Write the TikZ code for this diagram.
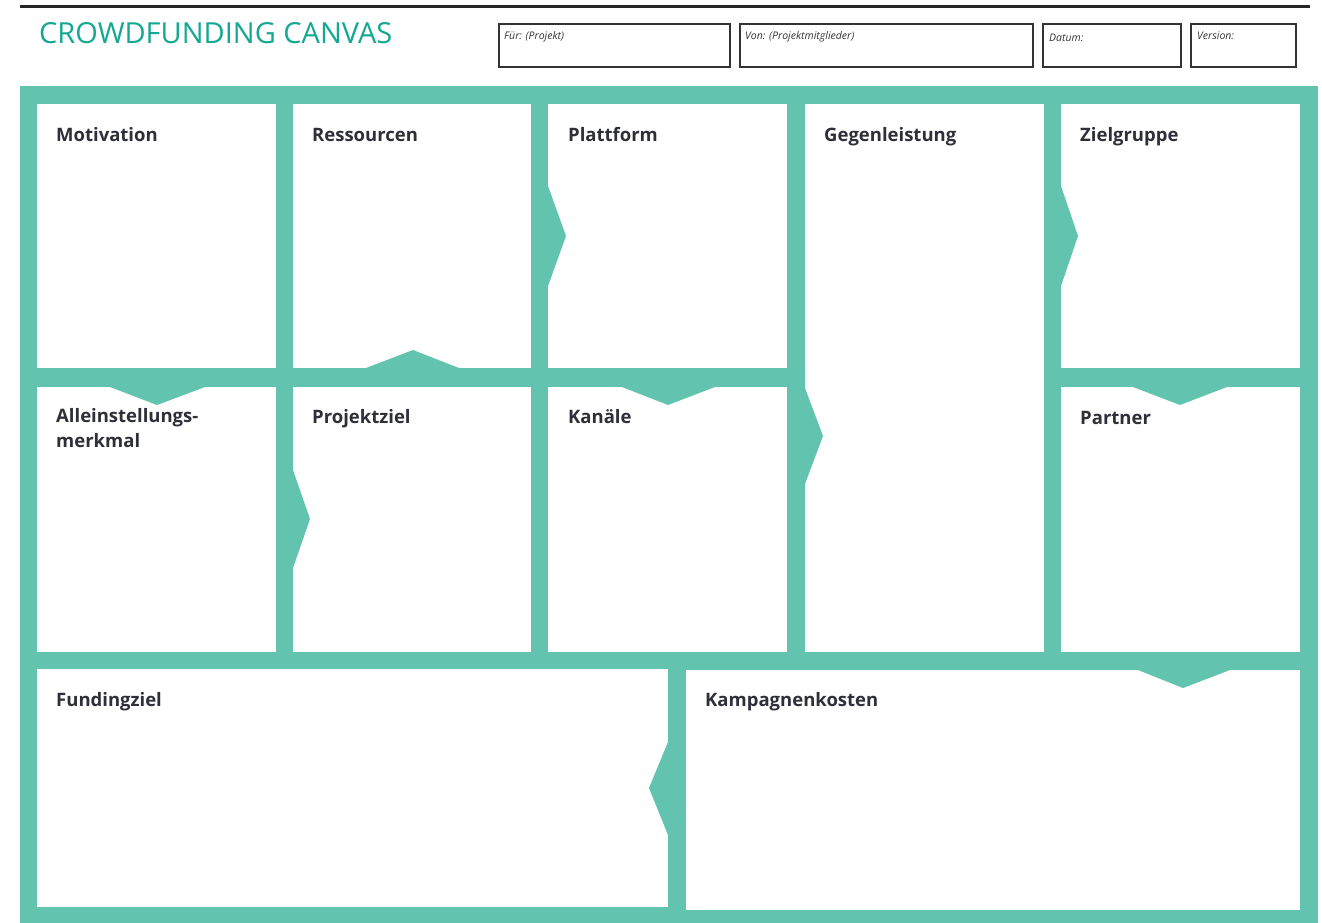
\documentclass[tikz,border=0pt]{standalone}
\usepackage{fontspec}
\setmainfont{Open Sans}
\definecolor{cgreen}{HTML}{62C4AE}
\definecolor{cteal}{HTML}{14A892}
\definecolor{ctext}{HTML}{2E2F38}
\begin{document}
\begin{tikzpicture}[x=1pt,y=-1pt,
  panel/.style={fill=white},
  notch/.style={fill=cgreen},
  lbl/.style={anchor=base west,inner sep=0pt,text=ctext,font=\fontsize{18.5}{24.5}\selectfont\bfseries},
  hbox/.style={draw=black!80,line width=1.3pt},
  htxt/.style={anchor=base west,inner sep=0pt,text=black!80,font=\fontsize{10.5}{11}\selectfont\itshape}]
\useasboundingbox (0,0) rectangle (1322,923);
% top rule
\draw[line width=3pt,black!85] (20,6.5) -- (1310,6.5);
% title
\node[anchor=base west,inner sep=0pt,text=cteal,font=\fontsize{29}{32}\selectfont] (title) at (39,44) {CROWDFUNDING CANVAS};
% header boxes
\draw[hbox] (499,24) rectangle (730,67);
\draw[hbox] (740,24) rectangle (1033,67);
\draw[hbox] (1043,24) rectangle (1181,67);
\draw[hbox] (1191,24) rectangle (1296,67);
\node[htxt] (fuer) at (504,40) {Für: (Projekt)};
\node[htxt] (von) at (745,40) {Von: (Projektmitglieder)};
\node[htxt] (datum) at (1049,42) {Datum:};
\node[htxt] (version) at (1197,40) {Version:};
% green field
\fill[cgreen] (20,86) rectangle (1318,923);
% panels
\fill[panel] (37,104) rectangle (276,368);
\fill[panel] (293,104) rectangle (531,368);
\fill[panel] (548,104) rectangle (787,368);
\fill[panel] (805,104) rectangle (1044,652);
\fill[panel] (1061,104) rectangle (1300,368);
\fill[panel] (37,387) rectangle (276,652);
\fill[panel] (293,387) rectangle (531,652);
\fill[panel] (548,387) rectangle (787,652);
\fill[panel] (1061,387) rectangle (1300,652);
\fill[panel] (37,669) rectangle (668,907);
\fill[panel] (686,670) rectangle (1300,910);
% notches
\fill[notch] (110,387) -- (205,387) -- (157,405) -- cycle;
\fill[notch] (366,368) -- (459,368) -- (413,350) -- cycle;
\fill[notch] (548,186) -- (548,286) -- (566,236) -- cycle;
\fill[notch] (622,387) -- (715,387) -- (668,405) -- cycle;
\fill[notch] (805,388) -- (805,484) -- (823,436) -- cycle;
\fill[notch] (1061,186) -- (1061,286) -- (1078,236) -- cycle;
\fill[notch] (1133,387) -- (1227,387) -- (1180,405) -- cycle;
\fill[notch] (293,470) -- (293,568) -- (310,519) -- cycle;
\fill[notch] (1138,670) -- (1230,670) -- (1183,688) -- cycle;
\fill[notch] (668,742) -- (668,835) -- (649,788) -- cycle;
% labels
\node[lbl] (motivation) at (56,142) {Motivation};
\node[lbl] (ressourcen) at (312,142) {Ressourcen};
\node[lbl] (plattform) at (568,142) {Plattform};
\node[lbl] (gegenleistung) at (824,142) {Gegenleistung};
\node[lbl] (zielgruppe) at (1080,142) {Zielgruppe};
\node[lbl,align=left] (alleinstellung) at (56,447) {Alleinstellungs-\\merkmal};
\node[lbl] (projektziel) at (312,423) {Projektziel};
\node[lbl] (kanaele) at (568,423) {Kanäle};
\node[lbl] (partner) at (1080,424) {Partner};
\node[lbl] (fundingziel) at (56,706) {Fundingziel};
\node[lbl] (kampagnenkosten) at (705,706) {Kampagnenkosten};
\end{tikzpicture}
\end{document}
